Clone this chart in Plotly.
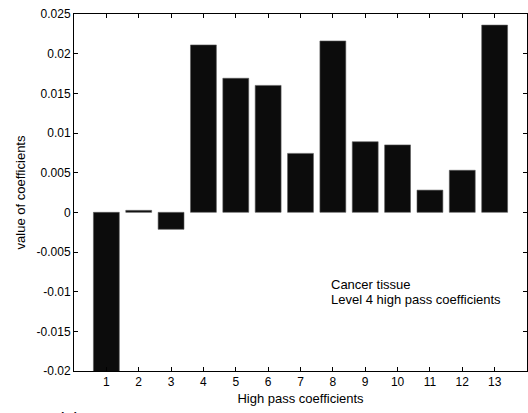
import plotly.graph_objects as go

categories = list(range(1, 14))
values = [-0.021, 0.00025, -0.00214, 0.0211, 0.0169, 0.0160, 0.00743, 0.0216,
          0.0089, 0.0085, 0.0028, 0.0053, 0.0236]
y_ticks = [-0.02, -0.015, -0.01, -0.005, 0, 0.005, 0.01, 0.015, 0.02, 0.025]
y_ticktext = ["-0.02", "-0.015", "-0.01", "-0.005", "0", "0.005", "0.01", "0.015", "0.02", "0.025"]
x_ticktext = [str(c) for c in categories]

FONT = "Arial, Liberation Sans, sans-serif"

fig = go.Figure()
fig.add_trace(go.Bar(
    x=categories, y=values, width=0.8,
    marker=dict(color="rgb(12,12,12)", line=dict(color="rgb(90,90,90)", width=0.6)),
    showlegend=False,
))

fig.add_annotation(x=7.87, y=-0.0091, xref="x", yref="y", text="Cancer tissue",
                   showarrow=False, xanchor="left", yanchor="middle",
                   font=dict(family=FONT, size=13, color="black"))
fig.add_annotation(x=7.87, y=-0.0110, xref="x", yref="y", text="Level 4 high pass coefficients",
                   showarrow=False, xanchor="left", yanchor="middle",
                   font=dict(family=FONT, size=13, color="black"))
fig.add_annotation(x=-0.01, y=-0.1, xref="paper", yref="paper", text="(a)",
                   showarrow=False, xanchor="center", yanchor="top",
                   font=dict(family=FONT, size=18, color="black"))

fig.update_layout(
    width=528, height=413,
    margin=dict(l=74, r=1, t=14, b=42),
    paper_bgcolor="white", plot_bgcolor="white",
    font=dict(family=FONT, size=12, color="black"),
    bargap=0.2,
)

fig.update_xaxes(
    range=[0, 14], tickvals=categories, ticktext=x_ticktext,
    showline=True, linecolor="black", linewidth=1, mirror="ticks",
    ticks="inside", ticklen=4, tickcolor="black", showgrid=False, zeroline=False,
    tickfont=dict(size=12),
    title=dict(text="High pass coefficients", font=dict(size=13), standoff=5),
)
fig.update_yaxes(
    range=[-0.02, 0.025], tickvals=y_ticks, ticktext=y_ticktext,
    showline=True, linecolor="black", linewidth=1, mirror="ticks",
    ticks="inside", ticklen=4, tickcolor="black", showgrid=False, zeroline=False,
    tickfont=dict(size=12),
    title=dict(text="value of coefficients", font=dict(size=13), standoff=8),
)

fig.write_html("out.html")
